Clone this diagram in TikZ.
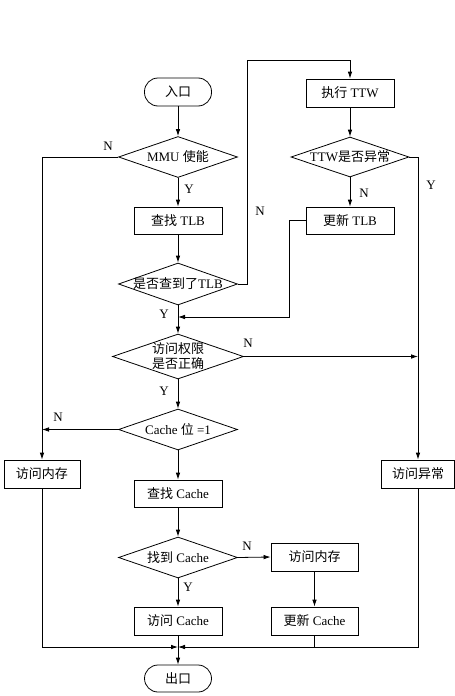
\documentclass[tikz,border=0pt]{standalone}
\usepackage{fontspec}
\setmainfont{Liberation Serif}
\newfontfamily\cjk{Noto Sans CJK SC}
\newcommand{\zh}[1]{{\cjk #1}}
\usetikzlibrary{shapes.geometric,arrows.meta}
\tikzset{
  base/.style={draw, line width=0.8pt, inner sep=0pt, font=\fontsize{13}{15}\selectfont},
  procbox/.style={base, rectangle, minimum width=88pt, minimum height=28pt},
  termbox/.style={base, rectangle, rounded corners=13.5pt, minimum width=67pt, minimum height=28pt},
  decbox/.style={base, diamond, minimum width=119pt, minimum height=41pt},
  yn/.style={font=\fontsize{13}{15}\selectfont, inner sep=0pt},
  conn/.style={line width=0.8pt},
  arr/.style={conn, -{Latex[length=7pt,width=4.6pt]}},
  every label/.style={font=\fontsize{13}{15}\selectfont, inner sep=0pt, align=center}
}
\begin{document}
\begin{tikzpicture}[x=1pt,y=-1pt]
\useasboundingbox[fill=white] (0,0) rectangle (455,696);
% nodes
\node[termbox] (start) at (178,92) {\zh{入口}};
\node[decbox, label=center:{MMU \zh{使能}}] (mmu) at (178,157) {};
\node[procbox, minimum height=27pt] (ftlb) at (178,220.5) {\zh{查找} TLB};
\node[decbox, minimum height=42pt, label=center:{\zh{是否查到了}TLB}] (qtlb) at (178,284) {};
\node[procbox] (ttw) at (350,93) {\zh{执行} TTW};
\node[decbox, minimum width=118pt, minimum height=40pt, label=center:{TTW\zh{是否异常}}] (ttwq) at (350,157) {};
\node[procbox, minimum height=27pt] (utlb) at (350,220.5) {\zh{更新} TLB};
\node[decbox, minimum width=131pt, minimum height=45pt, label=center:{\zh{访问权限}\\\zh{是否正确}}] (perm) at (178,356.5) {};
\node[decbox, label=center:{Cache \zh{位} =1}] (cbit) at (178,429.5) {};
\node[procbox, minimum width=76pt] (meml) at (42,474) {\zh{访问内存}};
\node[procbox, minimum width=73pt] (exc) at (418,474) {\zh{访问异常}};
\node[procbox, minimum height=27pt] (fcache) at (178,493.5) {\zh{查找} Cache};
\node[decbox] (hit) at (178,557.5) [label=center:{\zh{找到} Cache}] {};
\node[procbox, minimum width=87pt] (memr) at (314.5,557) {\zh{访问内存}};
\node[procbox] (acache) at (178,621) {\zh{访问} Cache};
\node[procbox, minimum width=87pt] (ucache) at (314.5,621) {\zh{更新} Cache};
\node[termbox, minimum height=27pt] (exit) at (178,678.5) {\zh{出口}};
% junctions
\coordinate (j1) at (178,317);
\coordinate (j2) at (418,356.5);
\coordinate (j3) at (42,429.5);
\coordinate (j4) at (178,647);
% connectors
\draw[arr] (start) -- (mmu);
\draw[arr] (mmu) -- (ftlb);
\draw[arr] (mmu.west) -| (meml.north);
\draw[arr] (ftlb) -- (qtlb);
\draw[arr] (qtlb.east) -- (247,284) -- (247,60) -| (ttw.north);
\draw[arr] (ttw) -- (ttwq);
\draw[arr] (ttwq) -- (utlb);
\draw[arr] (ttwq.east) -| (exc.north);
\draw[arr] (utlb.west) -- (289,220.5) |- (j1);
\draw[arr] (qtlb.south) -- (perm.north);
\draw[arr] (perm.east) -- (j2);
\draw[arr] (perm) -- (cbit);
\draw[arr] (cbit.west) -- (j3);
\draw[arr] (cbit) -- (fcache);
\draw[arr] (fcache) -- (hit);
\draw[arr] (hit.east) -- (memr.west);
\draw[arr] (hit) -- (acache);
\draw[arr] (memr) -- (ucache);
\draw[arr] (acache) -- (exit);
\draw[arr] (meml.south) |- (j4);
\draw[arr] (exc.south) |- (j4);
\draw[conn] (ucache.south) -- (314.5,647);
% labels
\node[yn] (l1) at (108,146) {N};
\node[yn] (l2) at (189,189) {Y};
\node[yn] (l3) at (260,211) {N};
\node[yn] (l4) at (364,193) {N};
\node[yn] (l5) at (431,185) {Y};
\node[yn] (l6) at (164,314) {Y};
\node[yn] (l7) at (248,343) {N};
\node[yn] (l8) at (164,391) {Y};
\node[yn] (l9) at (58,417) {N};
\node[yn] (l10) at (247,546) {N};
\node[yn] (l11) at (188,587) {Y};
\end{tikzpicture}
\end{document}
